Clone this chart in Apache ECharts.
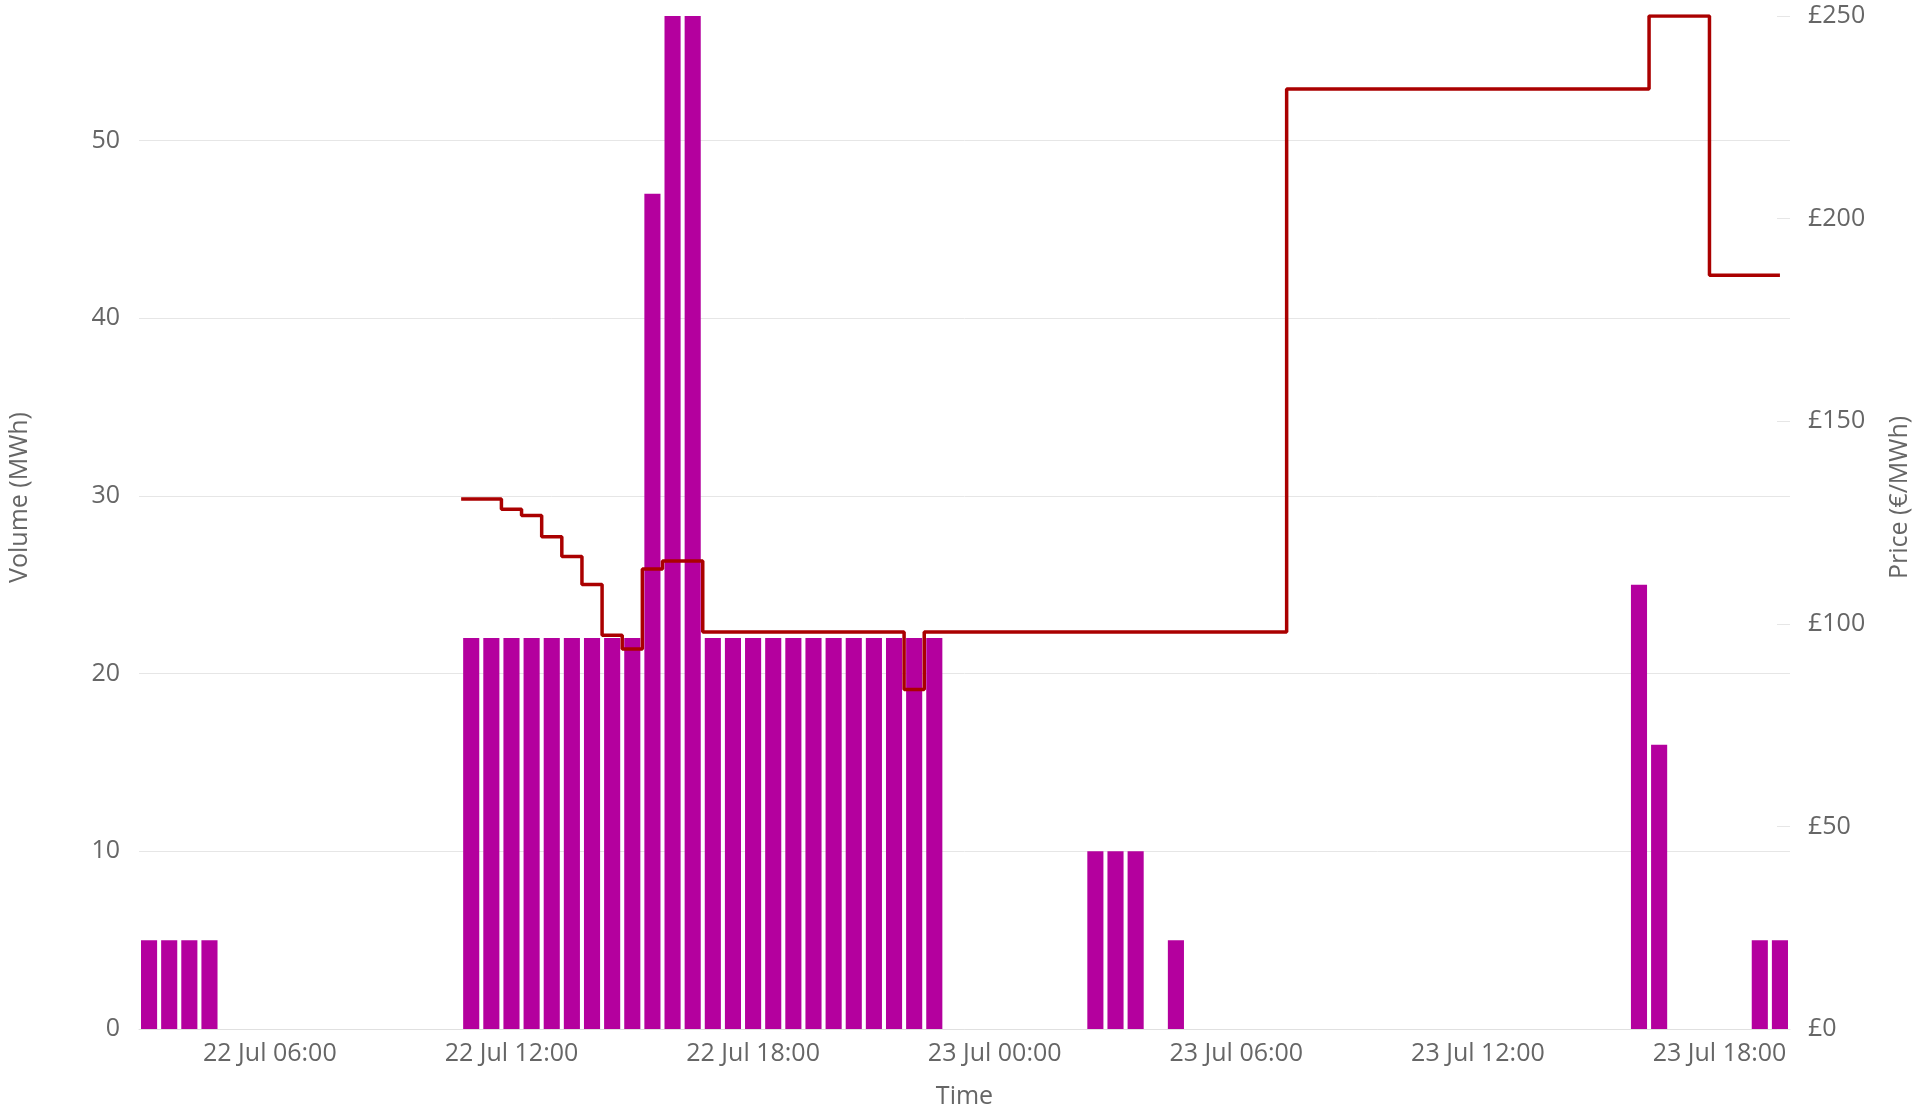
<!DOCTYPE html>
<html>
<head>
<meta charset="utf-8">
<script src="https://cdn.jsdelivr.net/npm/echarts@6/dist/echarts.min.js"></script>
<style>
html,body{margin:0;padding:0;background:#fff;}
#chart{width:1918px;height:1108px;}
</style>
</head>
<body>
<div id="chart"></div>
<script>
// Half-hour settlement periods: 22 Jul 03:00 ... 23 Jul 19:30 (82 periods)
const periodStart = '2024-07-22T03:00:00';
const periodCount = 82;
const tickLabels = ['22 Jul 06:00','22 Jul 12:00','22 Jul 18:00','23 Jul 00:00','23 Jul 06:00','23 Jul 12:00','23 Jul 18:00'];

// Volume (MWh) per period
const volumeValues = [
  5, 5, 5, 5, null, null, null, null, null, null, null, null,          // 03:00-08:30
  null, null, null, null, 22, 22, 22, 22, 22, 22, 22, 22,              // 09:00-14:30
  22, 47, 57, 57, 22, 22, 22, 22, 22, 22, 22, 22,                      // 15:00-20:30
  22, 22, 22, 22, null, null, null, null, null, null, null, 10,        // 21:00-02:30
  10, 10, null, 5, null, null, null, null, null, null, null, null,     // 03:00-08:30
  null, null, null, null, null, null, null, null, null, null, null, null, // 09:00-14:30
  null, null, 25, 16, null, null, null, null, 5, 5                     // 15:00-19:30
];

// Price (£/MWh) per period
const priceValues = [
  null, null, null, null, null, null, null, null, null, null, null, null,
  null, null, null, null, 130.8, 130.8, 128.3, 126.7, 121.5, 116.6, 109.7, 97.2,
  93.8, 113.5, 115.5, 115.5, 98, 98, 98, 98, 98, 98, 98, 98,
  98, 98, 83.8, 98, 98, 98, 98, 98, 98, 98, 98, 98,
  98, 98, 98, 98, 98, 98, 98, 98, 98, 232, 232, 232,
  232, 232, 232, 232, 232, 232, 232, 232, 232, 232, 232, 232,
  232, 232, 232, 250, 250, 250, 186, 186, 186, 186
];

const volumeAxis = { min: 0, max: 57, interval: 10 };
const priceAxis = { min: 0, max: 250, interval: 50 };

const monthNames = ['Jan','Feb','Mar','Apr','May','Jun','Jul','Aug','Sep','Oct','Nov','Dec'];
function pad(n){ return (n < 10 ? '0' : '') + n; }
const categories = [];
const t0 = new Date(periodStart).getTime();
for (let i = 0; i < periodCount; i++) {
  const d = new Date(t0 + i * 1800000);
  categories.push(d.getDate() + ' ' + monthNames[d.getMonth()] + ' ' + pad(d.getHours()) + ':' + pad(d.getMinutes()));
}

const FONT = 'Open Sans';
const FS = 25;
const GREY = '#666666';

const chart = echarts.init(document.getElementById('chart'), null, { renderer: 'canvas' });
chart.setOption({
  animation: false,
  backgroundColor: '#ffffff',
  textStyle: { fontFamily: FONT },
  grid: { left: 139, right: 128, top: 16, bottom: 79, containLabel: false, outerBoundsMode: 'none' },
  xAxis: {
    type: 'category',
    data: categories,
    boundaryGap: true,
    name: 'Time',
    nameLocation: 'middle',
    nameGap: 55,
    nameTextStyle: { fontFamily: FONT, fontSize: FS, color: GREY },
    axisLine: { show: true, lineStyle: { color: '#e0e0e0', width: 1 } },
    axisTick: { show: false },
    axisLabel: {
      fontFamily: FONT, fontSize: FS, color: GREY, margin: 12,
      interval: function (idx, val) { return tickLabels.indexOf(val) >= 0; }
    },
    splitLine: { show: false }
  },
  yAxis: [
    {
      type: 'value',
      position: 'left',
      min: volumeAxis.min, max: volumeAxis.max, interval: volumeAxis.interval,
      name: 'Volume (MWh)',
      nameLocation: 'middle',
      nameRotate: 90,
      nameGap: 107,
      nameTextStyle: { fontFamily: FONT, fontSize: FS, color: GREY, padding: [0, 0, 0, 50] },
      axisLine: { show: false },
      axisTick: { show: false },
      axisLabel: { fontFamily: FONT, fontSize: FS, color: GREY, margin: 19, showMaxLabel: false },
      splitLine: { show: true, showMaxLine: false, lineStyle: { color: '#e6e6e6', width: 1 } }
    },
    {
      type: 'value',
      position: 'right',
      min: priceAxis.min, max: priceAxis.max, interval: priceAxis.interval,
      name: 'Price (€/MWh)',
      nameLocation: 'middle',
      nameRotate: 90,
      nameGap: 97,
      nameTextStyle: { fontFamily: FONT, fontSize: FS, color: GREY, padding: [0, 0, 0, 50] },
      axisLine: { show: false },
      axisTick: { show: true, inside: true, length: 13, lineStyle: { color: '#e6e6e6', width: 1 } },
      axisLabel: { fontFamily: FONT, fontSize: FS, color: GREY, margin: 18, formatter: '£{value}' },
      splitLine: { show: false }
    }
  ],
  series: [
    {
      name: 'Volume',
      type: 'bar',
      yAxisIndex: 0,
      data: volumeValues,
      barWidth: '80%',
      itemStyle: { color: '#b4009e' }
    },
    {
      name: 'Price',
      type: 'line',
      yAxisIndex: 1,
      data: priceValues,
      step: 'middle',
      showSymbol: false,
      symbol: 'none',
      lineStyle: { color: '#aa0000', width: 3.5 },
      itemStyle: { color: '#aa0000' }
    }
  ]
});
</script>
</body>
</html>
